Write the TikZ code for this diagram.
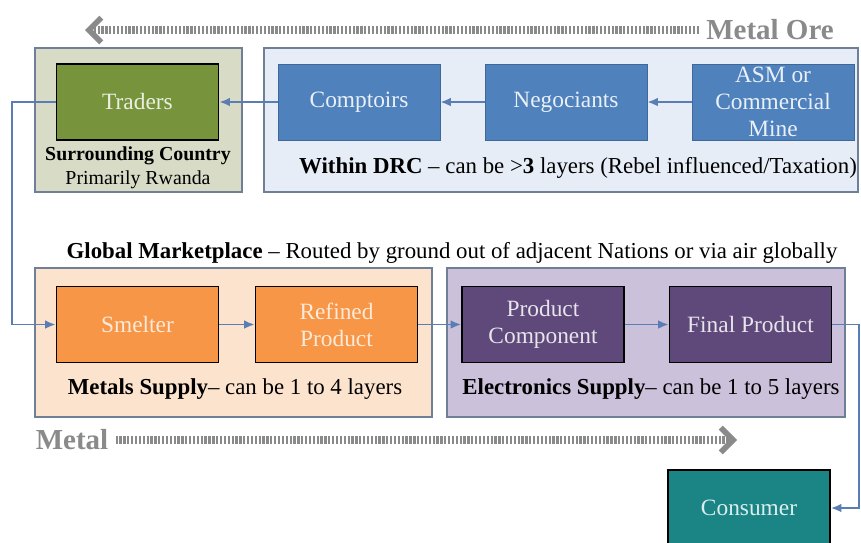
\documentclass[tikz,border=0pt]{standalone}
\usepackage{fontspec}
\setmainfont{Liberation Serif}
\usepackage{xcolor}
\usepackage{tikz}
\usetikzlibrary{arrows,arrows.meta,positioning,calc}

\definecolor{oliveBg}{HTML}{D8DCC6}
\definecolor{oliveFg}{HTML}{77933C}
\definecolor{drcBg}{HTML}{E7EDF6}
\definecolor{drcFg}{HTML}{4F81BD}
\definecolor{peachBg}{HTML}{FCE3CD}
\definecolor{orangeFg}{HTML}{F79646}
\definecolor{lavBg}{HTML}{CCC1DA}
\definecolor{purpleFg}{HTML}{5F497A}
\definecolor{tealFg}{HTML}{1B8585}
\definecolor{grpLine}{HTML}{6F7F97}
\definecolor{linkCol}{HTML}{5A7DB4}
\definecolor{flowCol}{HTML}{8A8A8A}

\begin{document}
\begin{tikzpicture}[
  x=0.02cm,y=-0.02cm,
  font=\fontsize{13.3}{15.5}\selectfont,
  grp/.style={rectangle,draw=grpLine,line width=1.2pt},
  stage/.style={rectangle,draw=black,line width=1pt,minimum width=3.24cm,minimum height=1.52cm,align=center,inner sep=1pt},
  drcstage/.style={stage,draw=drcFg!80!black,line width=0.4pt,fill=drcFg,text=white!88!drcFg},
  lbl/.style={font=\fontsize{13}{15}\selectfont,align=center,inner sep=0pt},
  link/.style={draw=linkCol,line width=1.1pt,-{Latex[length=6pt,width=5pt]}},
  flow/.style={draw=flowCol,line width=4pt,dash pattern=on 1.3pt off 0.9pt,
    -{Straight Barb[length=7pt,width=14pt,line width=3.2pt]}},
  flowlbl/.style={font=\fontsize{16.5}{18}\selectfont\bfseries,text=flowCol,inner sep=4pt},
]
\useasboundingbox (0,0) rectangle (861,542);

% group boxes
\node[grp,fill=oliveBg,minimum width=4.14cm,minimum height=2.88cm] (surround) at (138.5,120) {};
\node[grp,fill=drcBg,minimum width=11.88cm,minimum height=2.88cm] (drc) at (561,120) {};
\node[grp,fill=peachBg,minimum width=7.94cm,minimum height=2.98cm] (metals) at (233.5,342.5) {};
\node[grp,fill=lavBg,minimum width=7.96cm,minimum height=2.98cm] (elec) at (646,342.5) {};

% ore stages
\node[stage,fill=oliveFg,text=white!85!oliveFg] (traders) at (137.5,102) {Traders};
\node[drcstage] (comptoirs) at (359,102) {Comptoirs};
\node[drcstage] (negociants) at (566,102) {Negociants};
\node[drcstage] (asm) at (773,102) {ASM or\\Commercial\\Mine};

% metal stages
\node[stage,fill=orangeFg,text=white!80!orangeFg] (smelter) at (137.5,324.5) {Smelter};
\node[stage,fill=orangeFg,text=white!80!orangeFg] (refined) at (336.5,324.5) {Refined\\Product};
\node[stage,fill=purpleFg,text=white!85!purpleFg] (prodcomp) at (543,324.5) {Product\\Component};
\node[stage,fill=purpleFg,text=white!85!purpleFg] (final) at (750.5,324.5) {Final Product};
\node[stage,fill=tealFg,text=white!85!tealFg] (consumer) at (749,508) {Consumer};

% captions
\node[lbl,font=\fontsize{11.3}{13.5}\selectfont] (surroundLbl) at (138,168) {\textbf{Surrounding Country}\\Primarily Rwanda};
\node[lbl] (drcLbl) at (578,168) {\textbf{Within DRC} -- can be >\textbf{3} layers (Rebel influenced/Taxation)};
\node[lbl] (globalLbl) at (452,253) {\textbf{Global Marketplace} -- Routed by ground out of adjacent Nations or via air globally};
\node[lbl] (metalsLbl) at (235,389) {\textbf{Metals Supply}-- can be 1 to 4 layers};
\node[lbl] (elecLbl) at (651,389) {\textbf{Electronics Supply}-- can be 1 to 5 layers};

% material flow
\node[flowlbl] (oreLbl) at (770,30) {Metal Ore};
\coordinate (oreTip) at (85,30);
\draw[flow] (oreLbl.west) -- (oreTip);
\node[flowlbl] (metalLbl) at (72,440) {Metal};
\coordinate (metalTip) at (737,440);
\draw[flow] (metalLbl.east) -- (metalTip);

% links
\draw[link] (asm) -- (negociants);
\draw[link] (negociants) -- (comptoirs);
\draw[link] (comptoirs) -- (traders);
\draw[link] (traders.west) -- ++(-44,0) |- (smelter.west);
\draw[link] (smelter) -- (refined);
\draw[link] (refined) -- (prodcomp);
\draw[link] (prodcomp) -- (final);
\draw[link] (final.east) -- ++(27,0) |- (consumer.east);

\end{tikzpicture}
\end{document}
